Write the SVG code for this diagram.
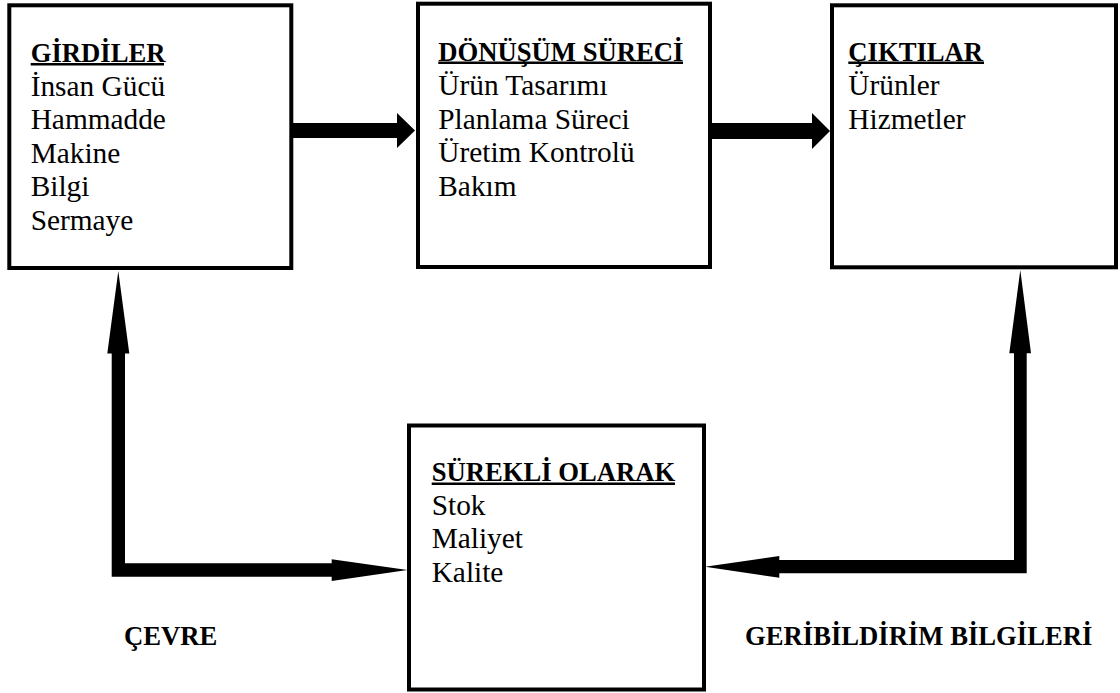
<svg xmlns="http://www.w3.org/2000/svg" width="1120" height="693" viewBox="0 0 1120 693">
  <style>
    .box { fill: #ffffff; stroke: #000000; stroke-width: 4; }
    .t { font-family: 'Liberation Serif', Tinos, 'Times New Roman', Times, 'DejaVu Serif', serif; font-size: 29.33px; fill: #000000; }
    .h { font-family: 'Liberation Serif', Tinos, 'Times New Roman', Times, 'DejaVu Serif', serif; font-size: 26.67px; font-weight: bold; fill: #000000; }
    .ul { stroke: #000000; stroke-width: 2.5; }
    .arrow { fill: #000000; stroke: none; }
  </style>
  <rect x="0" y="0" width="1120" height="693" fill="#ffffff"/>

  <g id="connectors">
    <polygon class="arrow" points="293,123 397,123 397,113 415,130.5 397,148 397,138 293,138"/>
    <polygon class="arrow" points="712,123 812,123 812,113 830,131 812,149 812,139 712,139"/>
    <polygon class="arrow" points="118.3,271 129.3,353.5 125,353.5 125,563.3 331.7,563.3 331.7,559.3 407.5,570 331.7,581 331.7,576.7 111.7,576.7 111.7,353.5 107.3,353.5"/>
    <polygon class="arrow" points="1020.3,270 1031,353.3 1026.7,353.3 1026.7,573.3 779.3,573.3 779.3,577.7 705,566.7 779.3,556 779.3,560 1014,560 1014,353.3 1009.3,353.3"/>
  </g>

  <g id="girdiler">
    <rect class="box" x="9.3" y="5.3" width="282" height="262.7"/>
    <text class="h" x="30.7" y="62">GİRDİLER</text>
    <line class="ul" x1="30.7" y1="64.3" x2="164" y2="64.3"/>
    <text class="t" x="30.7" y="95.5">İnsan Gücü</text>
    <text class="t" x="30.7" y="129">Hammadde</text>
    <text class="t" x="30.7" y="162.5">Makine</text>
    <text class="t" x="30.7" y="196">Bilgi</text>
    <text class="t" x="30.7" y="229.5">Sermaye</text>
  </g>

  <g id="donusum">
    <rect class="box" x="418" y="3.7" width="292" height="263.3"/>
    <text class="h" x="438.3" y="60.5">DÖNÜŞÜM SÜRECİ</text>
    <line class="ul" x1="438.3" y1="62.8" x2="683" y2="62.8"/>
    <text class="t" x="438.3" y="95">Ürün Tasarımı</text>
    <text class="t" x="438.3" y="128.5">Planlama Süreci</text>
    <text class="t" x="438.3" y="162">Üretim Kontrolü</text>
    <text class="t" x="438.3" y="195.5">Bakım</text>
  </g>

  <g id="ciktilar">
    <rect class="box" x="832" y="5.3" width="284" height="262"/>
    <text class="h" x="848.3" y="60.5">ÇIKTILAR</text>
    <line class="ul" x1="848.3" y1="62.8" x2="984" y2="62.8"/>
    <text class="t" x="848.3" y="95">Ürünler</text>
    <text class="t" x="848.3" y="128.5">Hizmetler</text>
  </g>

  <g id="surekli">
    <rect class="box" x="409" y="425.5" width="295" height="264"/>
    <text class="h" x="431.7" y="481">SÜREKLİ OLARAK</text>
    <line class="ul" x1="431.7" y1="483.8" x2="675" y2="483.8"/>
    <text class="t" x="431.7" y="514.5">Stok</text>
    <text class="t" x="431.7" y="548">Maliyet</text>
    <text class="t" x="431.7" y="581.5">Kalite</text>
  </g>

  <g id="cevre">
    <text class="h" x="124" y="645">ÇEVRE</text>
  </g>

  <g id="geribildirim">
    <text class="h" x="745" y="645">GERİBİLDİRİM BİLGİLERİ</text>
  </g>
</svg>
